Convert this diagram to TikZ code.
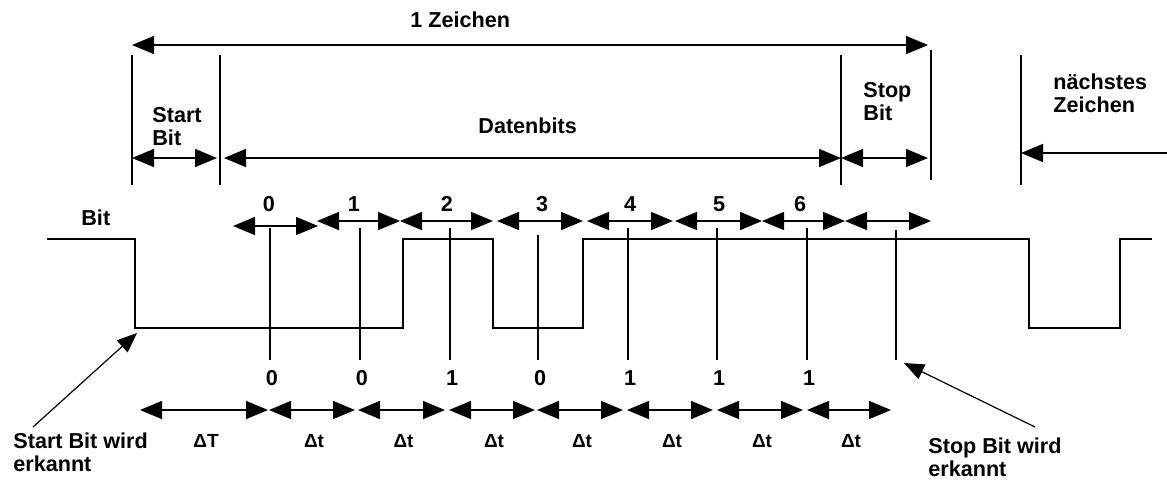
\documentclass[tikz,border=0pt]{standalone}
\usepackage{fontspec}
\setmainfont{Liberation Sans}
\usepackage{tikz}
\usetikzlibrary{arrows.meta,positioning}
\tikzset{
  lblnode/.style={font=\bfseries\fontsize{10.8}{11.5}\selectfont,align=left,inner sep=0pt},
  numnode/.style={font=\bfseries\fontsize{10.8}{12}\selectfont,inner sep=0pt,anchor=base},
  dtnode/.style={font=\bfseries\fontsize{9.5}{11}\selectfont,inner sep=0pt,anchor=base},
  guide/.style={line width=0.75pt,color=black},
  bittick/.style={line width=1.3pt,color=black},
  signal/.style={line width=1.35pt,color=black,line join=miter},
  dimarr/.style={{Triangle[length=11pt,width=9pt]}-{Triangle[length=11pt,width=9pt]},line width=0.75pt},
  onearr/.style={-{Triangle[length=11pt,width=9pt]},line width=0.75pt},
  ptrarr/.style={-{Triangle[length=10pt,width=8pt]},line width=0.6pt}
}

\begin{document}
\begin{tikzpicture}[x=0.5pt,y=-0.5pt]
  \useasboundingbox (0,0) rectangle (1167,479);

  %% frame of one character
  \draw[guide] (132,55) -- (132,185);
  \draw[guide] (220,55) -- (220,185);
  \draw[guide] (841,55) -- (841,185);
  \draw[guide] (931,50) -- (931,180);
  \draw[guide] (1021,55) -- (1021,185);

  \coordinate (zL) at (132,45);
  \coordinate (zR) at (928,45);
  \node[lblnode,anchor=base west] (zlbl) at (410,27) {1 Zeichen};
  \draw[dimarr] (zL) -- (zR);

  %% start bit / data bits / stop bit
  \coordinate (sbL) at (132,158);
  \coordinate (sbR) at (217,158);
  \coordinate (dbL) at (224,158);
  \coordinate (dbR) at (841,158);
  \coordinate (pbR) at (928,158);
  \draw[dimarr] (sbL) -- (sbR);
  \draw[dimarr] (dbL) -- (dbR);
  \draw[dimarr] (dbR) -- (pbR);
  \node[lblnode,anchor=north west] (startbit) at (152,107) {Start\\Bit};
  \node[lblnode,anchor=base west] (datenbits) at (478,133) {Datenbits};
  \node[lblnode,anchor=north west] (stopbit) at (863,82) {Stop\\Bit};

  %% next character
  \coordinate (nxR) at (1167,153);
  \coordinate (nxL) at (1021,153);
  \draw[onearr] (nxR) -- (nxL);
  \node[lblnode,anchor=north west] (next) at (1053,73) {nächstes\\Zeichen};

  %% signal
  \node[lblnode,anchor=base west] (bitlbl) at (81,225) {Bit};
  \draw[signal] (47,239) -- (135,239) -- (135,328) -- (403,328) -- (403,239)
    -- (493,239) -- (493,328) -- (583,328) -- (583,239) -- (1029,239)
    -- (1029,328) -- (1120,328) -- (1120,239) -- (1152,239);

  %% bit numbers above
  \foreach \a/\b/\y/\n/\lx [count=\i] in {233/318/226/0/269, 317/400/221/1/354,
      400/493/221/2/447, 497/583/221/3/542, 587/673/221/4/630,
      675/762/221/5/719, 762/845/221/6/800, 845/931/221//0} {
    \coordinate (bl\i) at (\a,\y);
    \coordinate (br\i) at (\b,\y);
    \draw[dimarr] (bl\i) -- (br\i);
    \ifx\n\empty\else
      \node[numnode] (bn\i) at (\lx,211) {\n};
    \fi
  }

  %% sampling points and read values
  \foreach \x/\t/\v [count=\i] in {270/228/0, 360/228/0, 450/228/1, 538/235/0,
      628/228/1, 717/228/1, 807/228/1, 896/230/} {
    \draw[bittick] (\x,\t) -- (\x,360);
    \ifx\v\empty\else
      \node[numnode] (rv\i) at (\x+2,385) {\v};
    \fi
  }

  %% sampling intervals
  \foreach \a/\b/\d [count=\i] in {140/268/T, 269/355/t, 358/445/t, 449/535/t,
      537/623/t, 627/713/t, 717/803/t, 807/891/t} {
    \coordinate (tl\i) at (\a,410);
    \coordinate (tr\i) at (\b,410);
    \draw[dimarr] (tl\i) -- (tr\i);
    \node[dtnode] (dt\i) at ({(\a+\b)/2+2},447) {Δ\d};
  }

  %% detection notes
  \node[lblnode,anchor=north west,font=\bfseries\fontsize{10.8}{11.5}\selectfont] (startdet) at (13,432) {Start Bit wird\\erkannt};
  \node[lblnode,anchor=north west] (stopdet) at (928,437) {Stop Bit wird\\erkannt};
  \coordinate (sdTip) at (137,333);
  \coordinate (pdTip) at (904,363);
  \draw[ptrarr] (33,427) -- (sdTip);
  \draw[ptrarr] (1035,427) -- (pdTip);
\end{tikzpicture}
\end{document}
